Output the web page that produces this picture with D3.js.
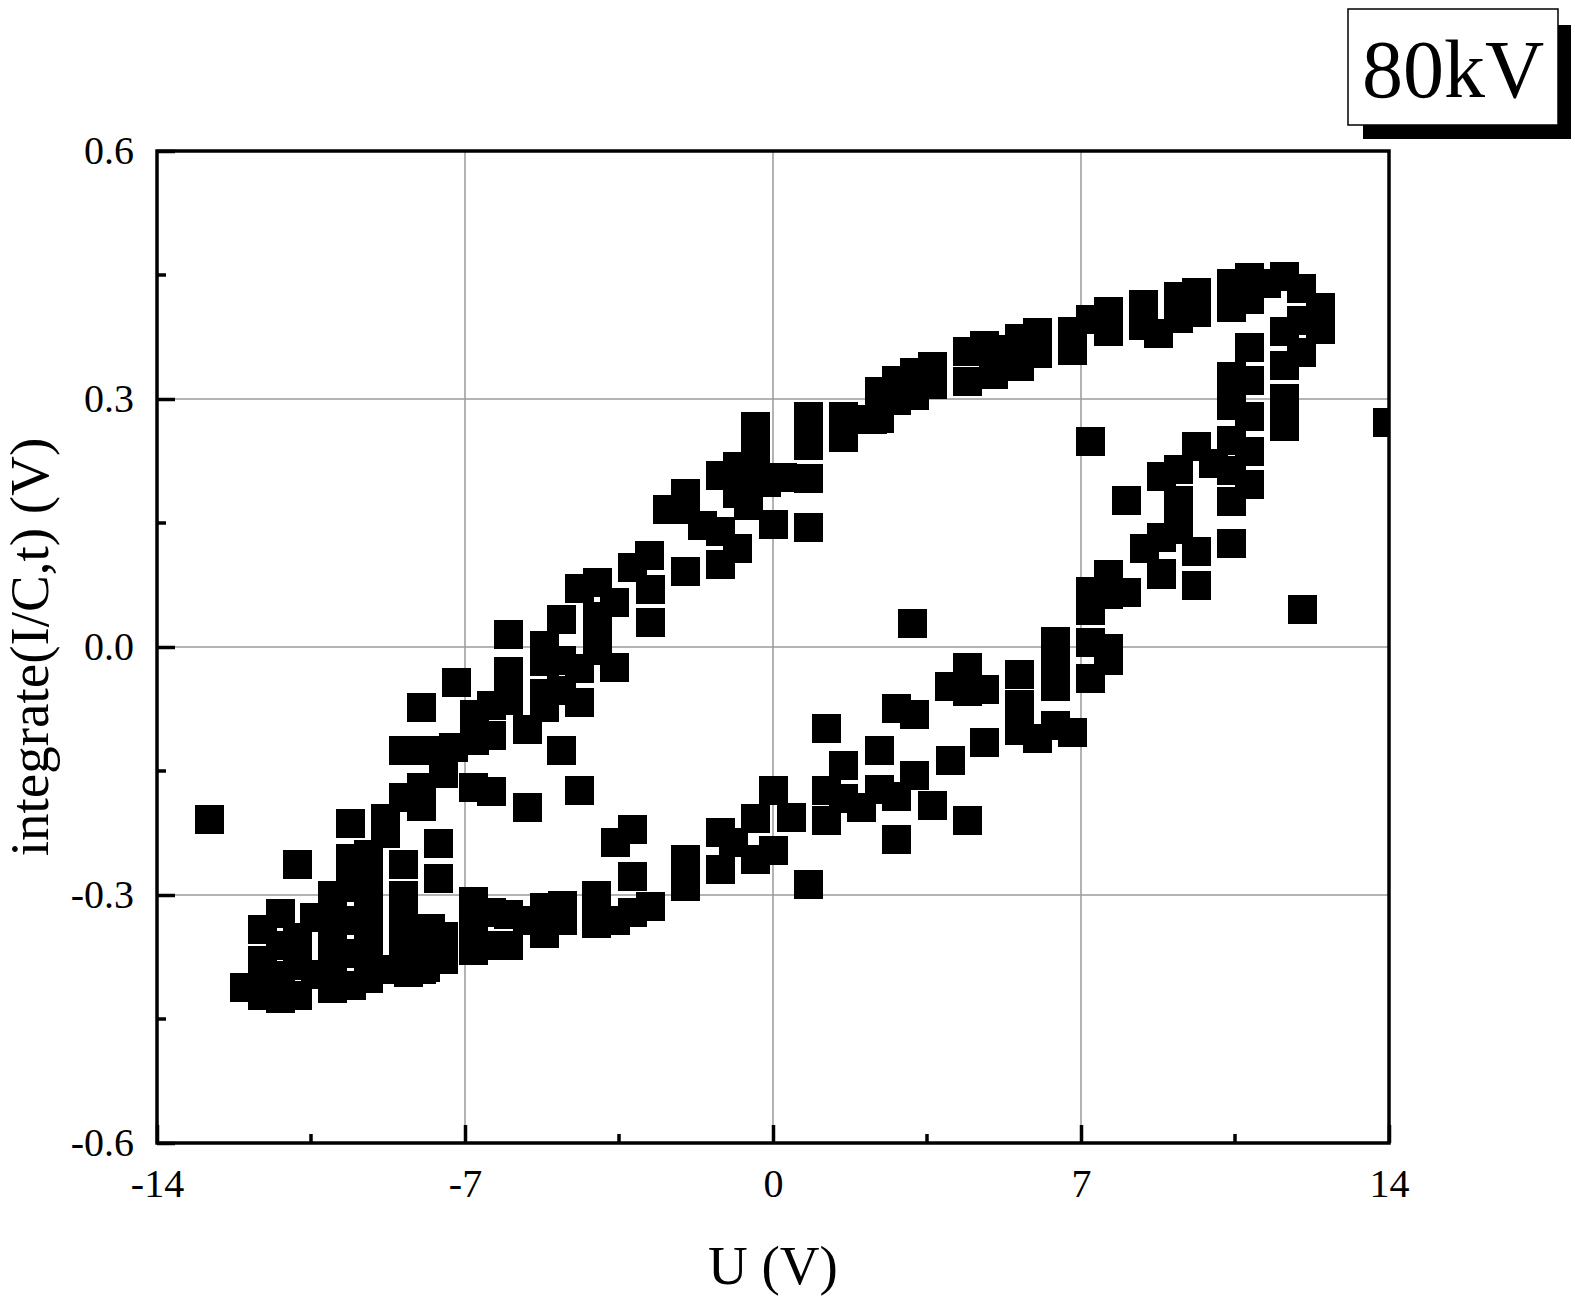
<!DOCTYPE html>
<html>
<head>
<meta charset="utf-8">
<script src="https://cdn.jsdelivr.net/npm/d3@7"></script>
<style>
  body { margin: 0; background: #ffffff; }
  svg { display: block; }
  text { font-family: "Liberation Serif", "Times New Roman", serif; fill: #000; }
</style>
</head>
<body>
<div id="chart"></div>
<script>
// axis ticks
const xTicks = [-14, -7, 0, 7, 14];
const xTickLabels = ["-14", "-7", "0", "7", "14"];
const xMinor = [-10.5, -3.5, 3.5, 10.5];
const yTicks = [-0.6, -0.3, 0, 0.3, 0.6];
const yTickLabels = ["-0.6", "-0.3", "0.0", "0.3", "0.6"];
const yMinor = [-0.45, -0.15, 0.15, 0.45];
const xGrid = [-7, 0, 7];
const yGrid = [-0.3, 0, 0.3];

// [U, integrate] pairs
const lowerLeftBlob = [
  [-12.02,-0.411],[-11.61,-0.421],[-11.61,-0.4],[-11.61,-0.379],[-11.61,-0.341],
  [-11.2,-0.424],[-11.2,-0.397],[-11.2,-0.36],[-11.2,-0.322],
  [-10.81,-0.421],[-10.81,-0.385],[-10.81,-0.351],[-10.43,-0.327],[-10.4,-0.395],
  [-10.02,-0.413],[-10.02,-0.38],[-10.02,-0.345],[-10.02,-0.322],[-10.02,-0.3],
  [-9.6,-0.409],[-9.6,-0.37],[-9.6,-0.33],[-9.61,-0.29],[-9.61,-0.255],[-9.61,-0.213],
  [-9.2,-0.4],[-9.2,-0.37],[-9.2,-0.34],[-9.2,-0.31],[-9.2,-0.28],[-9.2,-0.25],
  [-8.8,-0.39],[-8.42,-0.3],[-8.42,-0.33],[-8.42,-0.36],[-8.42,-0.385],[-8.3,-0.393],
  [-8.0,-0.36],[-8.0,-0.389],[-7.8,-0.34],[-7.9,-0.387],[-7.5,-0.377],[-7.5,-0.35]
];
const upperLeftBranch = [
  [-10.81,-0.262],[-8.82,-0.207],[-8.82,-0.225],[-8.41,-0.181],[-8.0,-0.169],[-8.0,-0.192],
  [-8.42,-0.124],[-8.01,-0.073],[-7.61,-0.237],[-7.62,-0.28],[-8.42,-0.262],
  [-7.75,-0.125],[-7.27,-0.121],[-7.5,-0.152],[-7.21,-0.042],
  [-6.82,-0.169],[-6.41,-0.174],[-6.8,-0.081],[-6.41,-0.07],[-6.8,-0.113],[-6.41,-0.107],
  [-6.02,-0.064],[-6.02,-0.029],[-6.02,0.016],[-5.6,-0.099],[-5.6,-0.193],
  [-5.2,-0.073],[-5.2,-0.056],[-5.2,-0.017],[-5.2,0.002],
  [-4.81,-0.125],[-4.41,-0.173],
  [-4.82,0.034],[-4.82,-0.016],[-4.82,-0.052],[-4.41,0.071],[-4.41,-0.025],[-4.41,-0.066],
  [-4.0,0.079],[-4.0,0.037],[-4.0,0.02],[-4.0,-0.004],[-3.61,0.054],[-3.61,-0.024],
  [-3.2,0.097],[-2.82,0.111],[-2.8,0.07],[-2.8,0.03],[-2.0,0.092],
  [-2.4,0.167],[-2.0,0.186],[-2.0,0.167],[-1.61,0.147],[-1.2,0.14],[-1.2,0.1],
  [-0.82,0.12],[-1.2,0.208],[-0.82,0.219],[-0.82,0.186],[-0.57,0.172],[-0.16,0.2],
  [-0.4,0.202],[-0.4,0.267],[-0.4,0.236],[0.0,0.149],[0.2,0.206],
  [0.8,0.279],[0.8,0.244],[0.8,0.204],[0.8,0.145]
];
const upperRightBranch = [
  [1.59,0.279],[1.59,0.254],[2.25,0.276],[2.41,0.31],[2.41,0.277],[2.8,0.323],[2.8,0.299],
  [3.2,0.333],[3.2,0.305],[3.61,0.34],[3.61,0.318],[4.41,0.358],[4.41,0.322],[4.8,0.365],
  [5.0,0.36],[5.0,0.33],[5.59,0.374],[5.59,0.34],[6.0,0.381],[6.0,0.356],
  [6.8,0.382],[6.8,0.359],[7.2,0.397],[7.61,0.406],[7.61,0.382],[8.41,0.415],[8.41,0.39],
  [8.75,0.38],[9.2,0.424],[9.2,0.398],[9.61,0.43],[9.61,0.405],[10.41,0.44],[10.41,0.411],
  [10.82,0.448],[10.82,0.421],[11.2,0.44],[11.61,0.449]
];
const rightRisingBranch = [
  [8.02,0.178],[8.82,0.207],[9.2,0.215],[9.2,0.178],[9.61,0.243],[10.0,0.222],
  [8.43,0.12],[8.82,0.133],[8.82,0.089],[9.2,0.143],[9.61,0.116],[9.61,0.075],
  [10.41,0.328],[10.41,0.293],[10.41,0.25],[10.41,0.214],[10.41,0.177],[10.41,0.126],
  [10.82,0.237],[10.82,0.197],[10.82,0.363],[10.82,0.323],[10.82,0.28],
  [11.61,0.382],[11.61,0.341],[11.61,0.301],[11.61,0.267],
  [12.0,0.434],[12.0,0.395],[12.0,0.357],[12.43,0.411],[12.43,0.385]
];
const lowerBranch = [
  [-6.82,-0.307],[-6.82,-0.336],[-6.82,-0.367],[-6.41,-0.32],[-6.41,-0.36],
  [-6.02,-0.323],[-6.02,-0.36],[-5.6,-0.33],[-5.2,-0.315],[-5.2,-0.346],
  [-4.8,-0.312],[-4.8,-0.33],[-4.02,-0.3],[-4.02,-0.334],[-3.6,-0.236],[-3.6,-0.33],
  [-3.2,-0.22],[-3.2,-0.277],[-3.2,-0.32],[-2.8,-0.313],[-2.0,-0.256],[-2.0,-0.289],
  [-1.2,-0.224],[-1.2,-0.268],[-0.9,-0.236],[-0.41,-0.207],[-0.41,-0.256],
  [0,-0.173],[0,-0.246],[0.41,-0.206],[0.8,-0.287],
  [1.2,-0.098],[1.2,-0.173],[1.2,-0.209],[1.59,-0.143],[1.59,-0.183],[2.0,-0.194],
  [2.41,-0.125],[2.41,-0.172],[2.8,-0.18],[2.8,-0.074],[3.2,-0.081],[2.8,-0.232],
  [3.2,-0.155],[3.61,-0.191],[4.02,-0.137],[4.0,-0.047],[4.41,-0.024],[4.41,-0.053],
  [4.8,-0.051],[4.8,-0.115],[4.41,-0.209],[5.59,-0.033],[5.59,-0.069],[5.59,-0.1],
  [6.0,-0.11],[6.41,0.007],[6.41,-0.02],[6.41,-0.047],[6.41,-0.094],[6.8,-0.103],
  [7.2,0.068],[7.2,0.045],[7.2,0.006],[7.2,-0.037],[7.61,0.088],[7.61,0.064],
  [7.61,-0.001],[7.61,-0.016],[8.02,0.067],[8.82,0.088],[9.61,0.075]
];
const outliers = [
  [-12.81,-0.208],[13.95,0.272],[12.02,0.046],[3.17,0.029],[7.2,0.249],[0.8,-0.287],
  [-10.81,-0.262]
];

const allPoints = [].concat(lowerLeftBlob, upperLeftBranch, upperRightBranch,
                            rightRisingBranch, lowerBranch, outliers);

const W = 1575, H = 1297;
const plotLeft = 157, plotRight = 1389, plotTop = 151, plotBottom = 1143;

const svg = d3.select("#chart").append("svg")
              .attr("width", W)
              .attr("height", H);

const x = d3.scaleLinear().domain([-14, 14]).range([plotLeft, plotRight]);
const y = d3.scaleLinear().domain([-0.6, 0.6]).range([plotBottom, plotTop]);

svg.append("clipPath").attr("id", "plotClip")
   .append("rect")
   .attr("x", plotLeft).attr("y", plotTop)
   .attr("width", plotRight - plotLeft).attr("height", plotBottom - plotTop);

//grid
svg.selectAll(".gx")
   .data(xGrid)
   .join("line")
   .attr("class", "gx")
   .attr("x1", d => x(d)).attr("x2", d => x(d))
   .attr("y1", plotTop).attr("y2", plotBottom)
   .attr("stroke", "#9a9a9a").attr("stroke-width", 1.5);

svg.selectAll(".gy")
   .data(yGrid)
   .join("line")
   .attr("class", "gy")
   .attr("y1", d => y(d)).attr("y2", d => y(d))
   .attr("x1", plotLeft).attr("x2", plotRight)
   .attr("stroke", "#9a9a9a").attr("stroke-width", 1.5);

//points (snapped so the 29px squares land on whole pixels)
const square = d3.symbol().type(d3.symbolSquare).size(29 * 29);
svg.append("g")
   .attr("clip-path", "url(#plotClip)")
   .selectAll("path")
   .data(allPoints)
   .join("path")
   .attr("d", square)
   .attr("transform", d => `translate(${Math.round(x(d[0])) + 0.5},${Math.round(y(d[1])) + 0.5})`)
   .attr("fill", "#000")
   .attr("shape-rendering", "crispEdges");

//axes
const xAxis = svg.append("g")
   .attr("transform", `translate(0,${plotBottom})`)
   .call(d3.axisBottom(x).tickValues(xTicks)
           .tickFormat((d, i) => xTickLabels[i])
           .tickSize(-18).tickPadding(26));
const yAxis = svg.append("g")
   .attr("transform", `translate(${plotLeft},0)`)
   .call(d3.axisLeft(y).tickValues(yTicks)
           .tickFormat((d, i) => yTickLabels[i])
           .tickSize(-18).tickPadding(23));

[xAxis, yAxis].forEach(g => {
  g.select(".domain").remove();
  g.selectAll(".tick line").attr("stroke", "#000").attr("stroke-width", 3.5);
  g.selectAll(".tick text")
   .style("font-family", "'Liberation Serif', 'Times New Roman', serif")
   .style("font-size", "40px")
   .attr("fill", "#000");
});

svg.selectAll(".mx")
   .data(xMinor)
   .join("line")
   .attr("class", "mx")
   .attr("x1", d => x(d)).attr("x2", d => x(d))
   .attr("y1", plotBottom).attr("y2", plotBottom - 9)
   .attr("stroke", "#000").attr("stroke-width", 3.5);

svg.selectAll(".my")
   .data(yMinor)
   .join("line")
   .attr("class", "my")
   .attr("y1", d => y(d)).attr("y2", d => y(d))
   .attr("x1", plotLeft).attr("x2", plotLeft + 9)
   .attr("stroke", "#000").attr("stroke-width", 3.5);

svg.append("rect")
   .attr("x", plotLeft).attr("y", plotTop)
   .attr("width", plotRight - plotLeft).attr("height", plotBottom - plotTop)
   .attr("fill", "none")
   .attr("stroke", "#000")
   .attr("stroke-width", 3.5);

//axis titles
svg.append("text")
   .attr("x", (plotLeft + plotRight) / 2)
   .attr("y", 1284)
   .attr("text-anchor", "middle")
   .style("font-size", "55px")
   .text("U (V)");

svg.append("text")
   .attr("transform", `translate(48,${(plotTop + plotBottom) / 2}) rotate(-90)`)
   .attr("text-anchor", "middle")
   .style("font-size", "55px")
   .text("integrate(I/C,t) (V)");

//80kV label with drop shadow
svg.append("rect")
   .attr("x", 1363).attr("y", 25)
   .attr("width", 208).attr("height", 114)
   .attr("fill", "#000");
svg.append("rect")
   .attr("x", 1348).attr("y", 9)
   .attr("width", 210).attr("height", 116)
   .attr("fill", "#fff")
   .attr("stroke", "#000")
   .attr("stroke-width", 1.5);
svg.append("text")
   .attr("x", 1453).attr("y", 97)
   .attr("text-anchor", "middle")
   .style("font-size", "82px")
   .text("80kV");
</script>
</body>
</html>
